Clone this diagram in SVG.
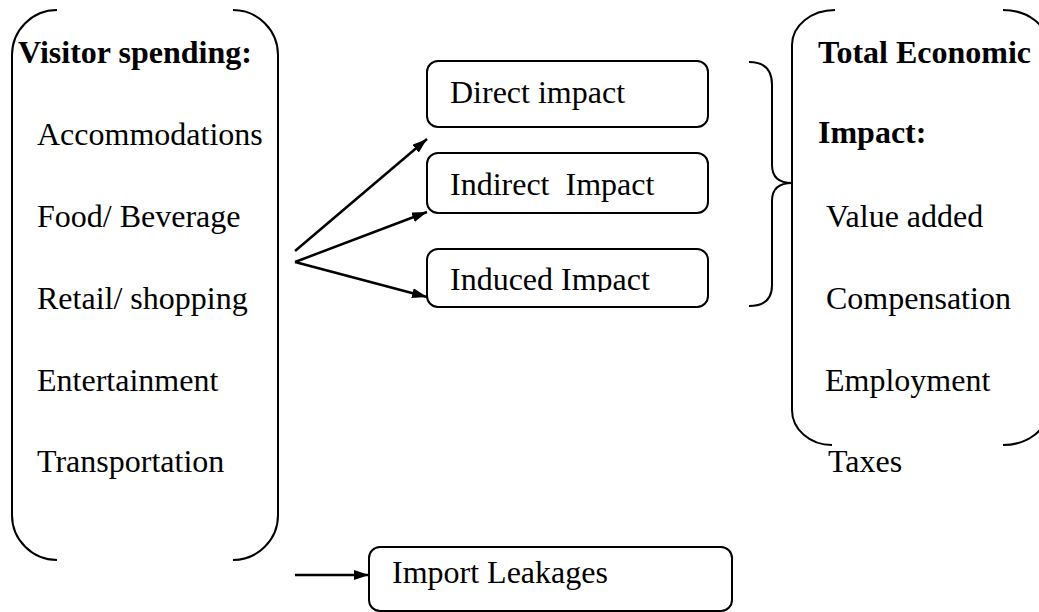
<svg xmlns="http://www.w3.org/2000/svg" width="1039" height="612" viewBox="0 0 1039 612">
<style>
  .t{font-family:"Liberation Serif","Times New Roman","DejaVu Serif",serif;font-size:32px;fill:#000}
  .b{font-weight:bold}
  .ln{fill:none;stroke:#000;stroke-width:2}
  .box{fill:#fff;stroke:#000;stroke-width:2}
  .arr{fill:none;stroke:#000;stroke-width:2.5;marker-end:url(#ah)}
</style>
<defs>
  <marker id="ah" markerUnits="userSpaceOnUse" viewBox="0 0 15 10" refX="15" refY="5" markerWidth="15" markerHeight="10" orient="auto">
    <path d="M0,0 L15,5 L0,10 z" fill="#000"/>
  </marker>
  <clipPath id="clipInduced"><rect x="427" y="249" width="281" height="43"/></clipPath>
</defs>

<g id="visitor-spending">
  <path class="ln" d="M57,10 A45,45 0 0 0 12,55 L12,515 A45,45 0 0 0 57,560"/>
  <path class="ln" d="M233,10 A45,45 0 0 1 278,55 L278,515 A45,45 0 0 1 233,560"/>
  <text class="t b" x="18" y="63">Visitor spending:</text>
  <text class="t" x="37" y="145">Accommodations</text>
  <text class="t" x="37" y="227">Food/ Beverage</text>
  <text class="t" x="37" y="309">Retail/ shopping</text>
  <text class="t" x="37" y="391">Entertainment</text>
  <text class="t" x="37" y="472">Transportation</text>
</g>

<g id="direct-impact">
  <rect class="box" x="427" y="61" width="281" height="66" rx="11"/>
  <text class="t" x="450" y="103">Direct impact</text>
</g>
<g id="indirect-impact">
  <rect class="box" x="427" y="153" width="281" height="60" rx="11"/>
  <text class="t" x="450" y="195" xml:space="preserve">Indirect  Impact</text>
</g>
<g id="induced-impact">
  <rect class="box" x="427" y="249" width="281" height="58" rx="11"/>
  <text class="t" x="450" y="290" clip-path="url(#clipInduced)">Induced Impact</text>
</g>
<g id="import-leakages">
  <rect class="box" x="369" y="547" width="363" height="64" rx="11"/>
  <text class="t" x="392" y="583">Import Leakages</text>
</g>

<g id="brace">
  <path class="ln" d="M749,62 Q772,62 772,85 L772,165 Q772,183 792,183 Q772,183 772,201 L772,285 Q772,306 749,306"/>
</g>

<g id="total-economic-impact">
  <path class="ln" d="M835,10 A43,35 0 0 0 792,45 L792,410 A40,35 0 0 0 832,445"/>
  <path class="ln" d="M1003,10 A45,35 0 0 1 1048,45"/>
  <path class="ln" d="M1003,445 A45,35 0 0 0 1048,410"/>
  <text class="t b" x="818" y="63">Total Economic</text>
  <text class="t b" x="818" y="143">Impact:</text>
  <text class="t" x="826" y="227">Value added</text>
  <text class="t" x="826" y="309">Compensation</text>
  <text class="t" x="825" y="391">Employment</text>
  <text class="t" x="828" y="472">Taxes</text>
</g>

<g id="connectors">
  <path class="arr" d="M295,251 L427,139"/>
  <path class="arr" d="M295,262 L427,212"/>
  <path class="arr" d="M295,262 L427,297"/>
  <path class="arr" d="M295,575 L369,575"/>
</g>
</svg>
